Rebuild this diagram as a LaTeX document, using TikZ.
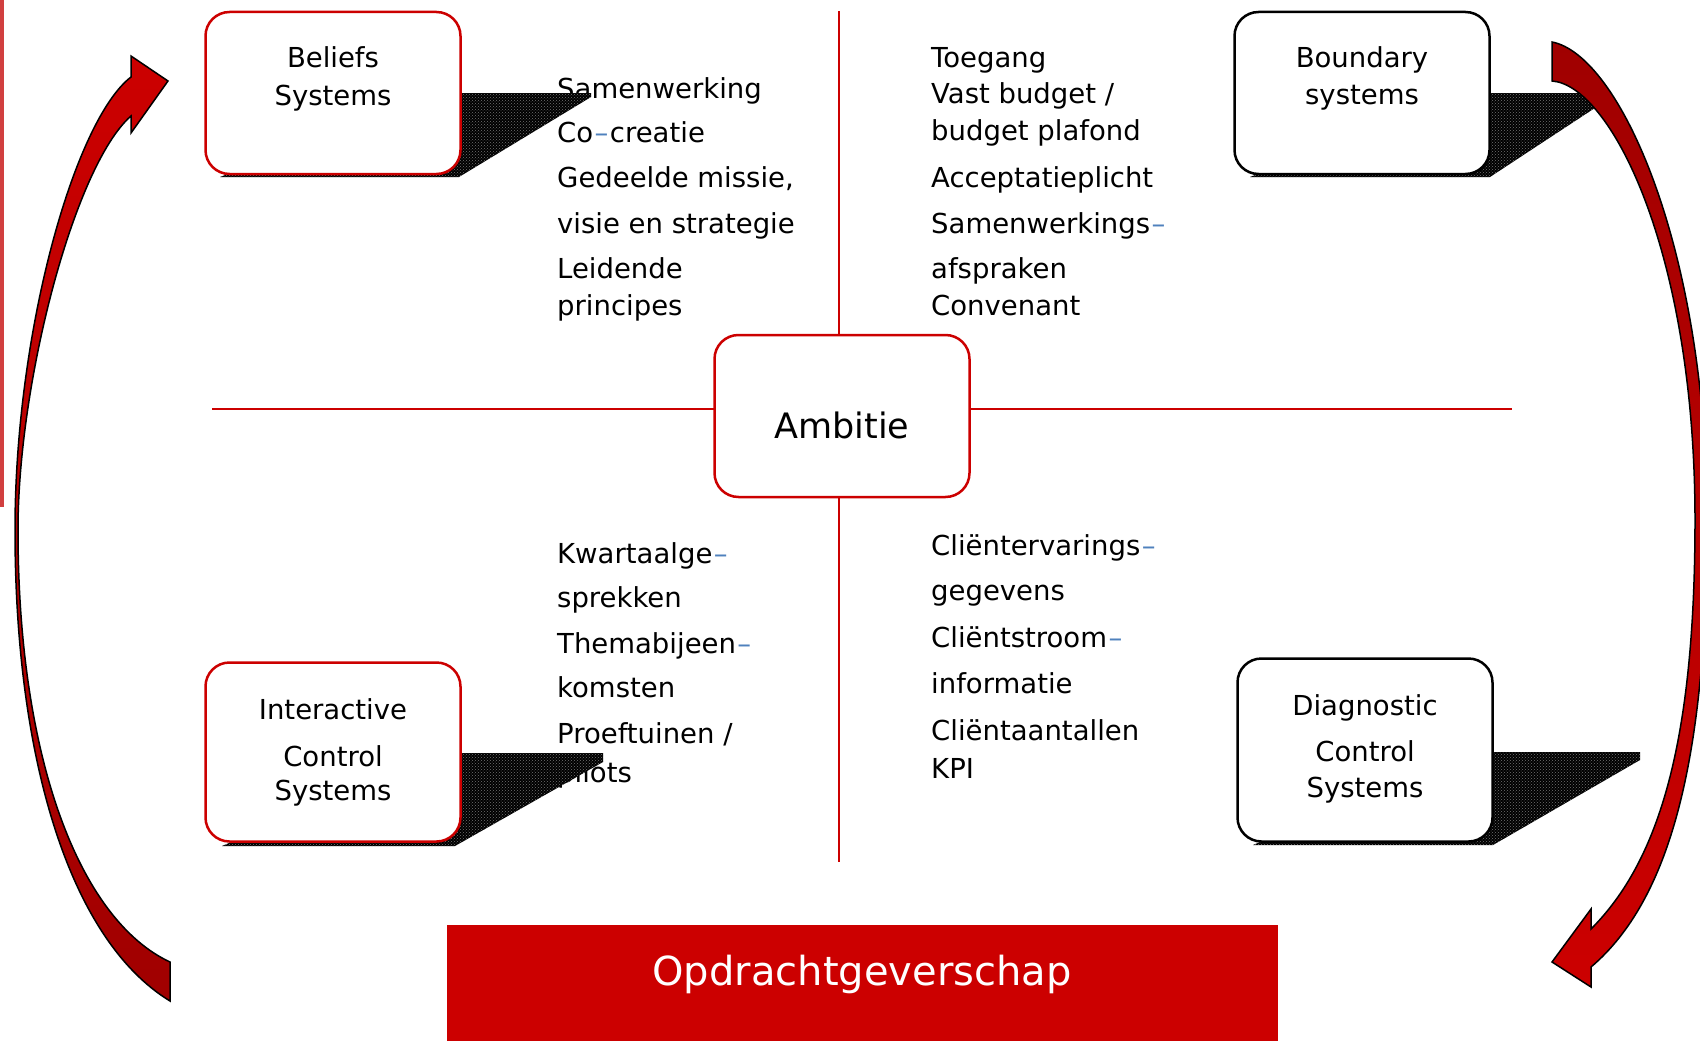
\documentclass[tikz,border=0pt]{standalone}
\usepackage{fontspec}
\setmainfont{DejaVu Sans}
\usetikzlibrary{patterns}

\definecolor{cred}{HTML}{CC0000}
\definecolor{cdarkred}{HTML}{A00000}
\definecolor{cbar}{HTML}{D13F3F}
\definecolor{cdash}{HTML}{4F81BD}

\newcommand{\bluedash}{\hspace{1.5pt}\textcolor{cdash}{--}}

\tikzset{
    sysbox/.style = {draw, line width=2.5pt, rounded corners=24pt, fill=white,
                     minimum width=255pt, minimum height=162pt, inner sep=0pt},
    boxtxt/.style = {font=\fontsize{27.5}{33}\selectfont, anchor=base, inner sep=0pt},
    itemtxt/.style = {font=\fontsize{27.5}{33}\selectfont, anchor=base west, inner sep=0pt},
    shadow3d/.style = {preaction={fill=black}, pattern=crosshatch dots, pattern color=black!55},
    bigarrow/.style = {draw=black, line width=1.5pt, line join=miter},
    axisline/.style = {draw=cred, line width=2pt},
}

\begin{document}
\begin{tikzpicture}[x=1pt, y=-1pt]
            \useasboundingbox (0,0) rectangle (1700,1041);

            \fill[cbar] (0,0) rectangle (4,507);

            % kruis
            \coordinate (hl) at (212,409);
            \coordinate (hr) at (1512,409);
            \coordinate (vt) at (839,11);
            \coordinate (vb) at (839,862);
            \draw[axisline] (hl) -- (hr);
            \draw[axisline] (vt) -- (vb);

            \node[sysbox, draw=cred] (ambitie) at (842,416) {};
            \node[boxtxt, font=\fontsize{35}{40}\selectfont] (ambitietxt) at (842,438) {Ambitie};

            % teksten
            \node[itemtxt] (b1) at (557,98) {Samenwerking};
            \node[itemtxt] (b2) at (557,142) {Co\bluedash\hspace{1.5pt}creatie};
            \node[itemtxt] (b3) at (557,187) {Gedeelde missie,};
            \node[itemtxt] (b4) at (557,233) {visie en strategie};
            \node[itemtxt] (b5) at (557,278) {Leidende};
            \node[itemtxt] (b6) at (557,315) {principes};

            \node[itemtxt] (g1) at (931,67) {Toegang};
            \node[itemtxt] (g2) at (931,103) {Vast budget /};
            \node[itemtxt] (g3) at (931,140) {budget plafond};
            \node[itemtxt] (g4) at (931,187) {Acceptatieplicht};
            \node[itemtxt] (g5) at (931,233) {Samenwerkings\bluedash};
            \node[itemtxt] (g6) at (931,278) {afspraken};
            \node[itemtxt] (g7) at (931,315) {Convenant};

            \node[itemtxt] (i1) at (557,563) {Kwartaalge\bluedash};
            \node[itemtxt] (i2) at (557,607) {sprekken};
            \node[itemtxt] (i3) at (557,653) {Themabijeen\bluedash};
            \node[itemtxt] (i4) at (557,697) {komsten};
            \node[itemtxt] (i5) at (557,743) {Proeftuinen /};
            \node[itemtxt] (i6) at (557,782) {pilots};

            \node[itemtxt] (d1) at (931,555) {Cliëntervarings\bluedash};
            \node[itemtxt] (d2) at (931,600) {gegevens};
            \node[itemtxt] (d3) at (931,647) {Cliëntstroom\bluedash};
            \node[itemtxt] (d4) at (931,693) {informatie};
            \node[itemtxt] (d5) at (931,740) {Cliëntaantallen};
            \node[itemtxt] (d6) at (931,778) {KPI};

            % schaduwen
            \path[shadow3d] (220,177) -- (459,177) -- (591,97) -- (591,93) -- (440,93) -- cycle;
            \path[shadow3d] (1250,177) -- (1490,177) -- (1607,100) -- (1607,93) -- (1470,93) -- cycle;
            \path[shadow3d] (222,846) -- (455,846) -- (603,762) -- (603,753) -- (440,753) -- cycle;
            \path[shadow3d] (1253,845) -- (1493,845) -- (1640,760) -- (1640,752) -- (1470,752) -- cycle;

            % systemen
            \node[sysbox, draw=cred] (beliefs) at (333,93) {};
            \node[boxtxt] (beliefs1) at (333,67) {Beliefs};
            \node[boxtxt] (beliefs2) at (333,105) {Systems};

            \node[sysbox, draw=black] (boundary) at (1362,93) {};
            \node[boxtxt] (boundary1) at (1362,67) {Boundary};
            \node[boxtxt] (boundary2) at (1362,104) {systems};

            \node[sysbox, draw=cred, minimum height=179pt] (interactive) at (333,752) {};
            \node[boxtxt] (interactive1) at (333,719) {Interactive};
            \node[boxtxt] (interactive2) at (333,766) {Control};
            \node[boxtxt] (interactive3) at (333,800) {Systems};

            \node[sysbox, draw=black, minimum height=183pt] (diagnostic) at (1365,750) {};
            \node[boxtxt] (diagnostic1) at (1365,715) {Diagnostic};
            \node[boxtxt] (diagnostic2) at (1365,761) {Control};
            \node[boxtxt] (diagnostic3) at (1365,797) {Systems};

            % balk
            \node[fill=cred, minimum width=831pt, minimum height=116pt, inner sep=0pt] (balk) at (862,983) {};
            \node[boxtxt, text=white, font=\fontsize{40}{46}\selectfont] (balktxt) at (862,985) {Opdrachtgeverschap};

            % pijlen
            \draw[bigarrow, top color=cred, bottom color=cdarkred]
                (170,962) .. controls (80,920) and (18,760) .. (18,530)
                .. controls (18,380) and (75,165) .. (131,116)
                -- (131,133) -- (168,81) -- (131,56) -- (131,77)
                .. controls (75,120) and (15,330) .. (15,530)
                .. controls (15,760) and (70,940) .. (170,1001)
                -- cycle;

            \draw[bigarrow, top color=cdarkred, bottom color=cred]
                (1552,81) .. controls (1610,85) and (1695,250) .. (1695,520)
                .. controls (1695,740) and (1660,860) .. (1591,929)
                -- (1591,909) -- (1552,962) -- (1591,987) -- (1591,967)
                .. controls (1670,900) and (1707,760) .. (1707,520)
                .. controls (1707,250) and (1620,55) .. (1552,42)
                -- cycle;
\end{tikzpicture}
\end{document}
